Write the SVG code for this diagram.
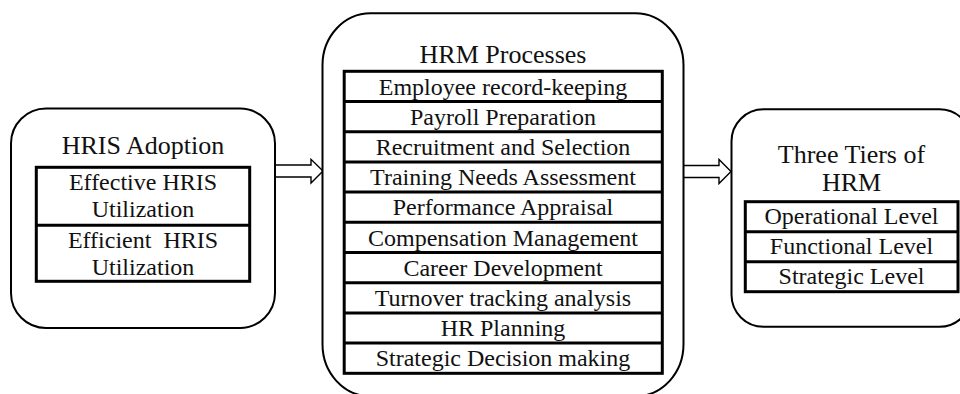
<svg xmlns="http://www.w3.org/2000/svg" width="960" height="394" viewBox="0 0 960 394">
  <style>
    .outer { fill: #fff; stroke: #000; stroke-width: 2; }
    .inner { fill: none; stroke: #000; stroke-width: 3; }
    .arrow { fill: #fff; stroke: #000; stroke-width: 1.4; stroke-linejoin: miter; }
    text { font-family: "Liberation Serif", "Times New Roman", serif; fill: #111; text-anchor: middle; }
    .title { font-size: 26px; }
    .item { font-size: 24px; }
  </style>
  <rect width="960" height="394" fill="#fff"/>

  <!-- connectors: hollow block arrows -->
  <g id="connectors">
    <polygon class="arrow" points="275,165 311,165 311,159.3 323,171 311,183 311,177 275,177"/>
    <polygon class="arrow" points="683,165.5 719,165.5 719,159.5 731,171.5 719,183.5 719,177.5 683,177.5"/>
  </g>

  <!-- HRIS adoption -->
  <g id="hris-adoption">
    <rect class="outer" x="11" y="108.5" width="264" height="219.5" rx="35" ry="35"/>
    <text class="title" x="143" y="154">HRIS Adoption</text>
    <rect class="inner" x="36.3" y="167.3" width="213.4" height="114"/>
    <line class="inner" x1="36.3" y1="225.3" x2="249.7" y2="225.3"/>
    <text class="item" x="143" y="190">Effective HRIS</text>
    <text class="item" x="143" y="216.7">Utilization</text>
    <text class="item" x="143" y="248.3" xml:space="preserve">Efficient  HRIS</text>
    <text class="item" x="143" y="275">Utilization</text>
  </g>

  <!-- HRM processes -->
  <g id="hrm-processes">
    <rect class="outer" x="322.5" y="13.3" width="361" height="383" rx="48" ry="52"/>
    <text class="title" x="503" y="63.3">HRM Processes</text>
    <rect class="inner" x="344.2" y="71.3" width="318.1" height="302"/>
    <line class="inner" x1="344.2" y1="101.5" x2="662.3" y2="101.5"/>
    <line class="inner" x1="344.2" y1="131.7" x2="662.3" y2="131.7"/>
    <line class="inner" x1="344.2" y1="161.9" x2="662.3" y2="161.9"/>
    <line class="inner" x1="344.2" y1="192.1" x2="662.3" y2="192.1"/>
    <line class="inner" x1="344.2" y1="222.3" x2="662.3" y2="222.3"/>
    <line class="inner" x1="344.2" y1="252.5" x2="662.3" y2="252.5"/>
    <line class="inner" x1="344.2" y1="282.7" x2="662.3" y2="282.7"/>
    <line class="inner" x1="344.2" y1="312.9" x2="662.3" y2="312.9"/>
    <line class="inner" x1="344.2" y1="343.1" x2="662.3" y2="343.1"/>
    <text class="item" x="503" y="94.5">Employee record-keeping</text>
    <text class="item" x="503" y="124.7">Payroll Preparation</text>
    <text class="item" x="503" y="154.9">Recruitment and Selection</text>
    <text class="item" x="503" y="185.1">Training Needs Assessment</text>
    <text class="item" x="503" y="215.3">Performance Appraisal</text>
    <text class="item" x="503" y="245.5">Compensation Management</text>
    <text class="item" x="503" y="275.7">Career Development</text>
    <text class="item" x="503" y="305.9">Turnover tracking analysis</text>
    <text class="item" x="503" y="336.1">HR Planning</text>
    <text class="item" x="503" y="366.3">Strategic Decision making</text>
  </g>

  <!-- Three tiers of HRM -->
  <g id="three-tiers">
    <rect class="outer" x="731.5" y="109.3" width="240" height="217.5" rx="32" ry="32"/>
    <text class="title" x="851.5" y="163.3">Three Tiers of</text>
    <text class="title" x="851.5" y="190.7">HRM</text>
    <rect class="inner" x="745.3" y="201.7" width="212.7" height="90"/>
    <line class="inner" x1="745.3" y1="231.7" x2="958" y2="231.7"/>
    <line class="inner" x1="745.3" y1="261.7" x2="958" y2="261.7"/>
    <text class="item" x="851.5" y="224.3">Operational Level</text>
    <text class="item" x="851.5" y="254.3">Functional Level</text>
    <text class="item" x="851.5" y="284.3">Strategic Level</text>
  </g>
</svg>
